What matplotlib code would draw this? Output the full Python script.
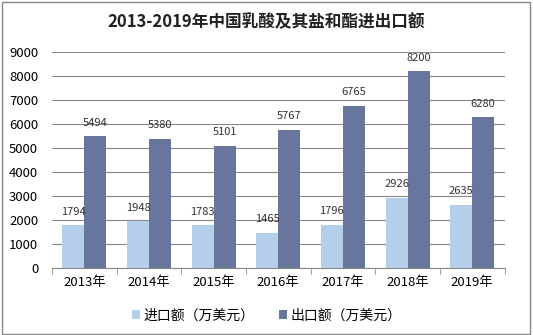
import matplotlib.pyplot as plt
import numpy as np
from matplotlib.patches import Rectangle

plt.rcParams['font.family'] = ['Noto Sans CJK SC', 'DejaVu Sans']

years = ["2013年", "2014年", "2015年", "2016年", "2017年", "2018年", "2019年"]
imports = [1794, 1948, 1783, 1465, 1796, 2926, 2635]
exports = [5494, 5380, 5101, 5767, 6765, 8200, 6280]
labels = ["进口额（万美元）", "出口额（万美元）"]

fig = plt.figure(figsize=(5.33, 3.35), dpi=100)
ax = fig.add_axes([0.0976, 0.2, 0.849, 0.645])

x = np.arange(len(years))
w = 0.34
b1 = ax.bar(x - w / 2, imports, w, color="#B5CFEA", label=labels[0], zorder=2)
b2 = ax.bar(x + w / 2, exports, w, color="#68769E", label=labels[1], zorder=2)

for bars, vals in ((b1, imports), (b2, exports)):
    for rect, v in zip(bars, vals):
        ax.text(rect.get_x() + rect.get_width() / 2, v + 350, str(v),
                ha="center", va="bottom", fontsize=8, color="#333333")

ax.set_xlim(-0.5, len(years) - 0.5)
ax.set_ylim(0, 9000)
ax.set_yticks(np.arange(0, 9001, 1000))
ax.yaxis.grid(True, color="#888888", linewidth=0.8, zorder=0)
ax.tick_params(axis="y", length=0, labelsize=9.5, pad=10)
ax.set_xticks(x)
ax.set_xticklabels(years, fontsize=9.5)
ax.set_xticks(np.arange(-0.5, len(years), 1), minor=True)
ax.tick_params(axis="x", which="major", length=0, pad=6)
ax.tick_params(axis="x", which="minor", length=4, color="#888888")
for s in ("left", "right", "top"):
    ax.spines[s].set_visible(False)
ax.spines["bottom"].set_color("#888888")

fig.text(0.5, 0.935, "2013-2019年中国乳酸及其盐和酯进出口额", ha="center", va="center",
         fontsize=12, fontweight="bold", color="#222222")

fig.legend(loc="lower center", bbox_to_anchor=(0.5, 0.0), ncol=2, frameon=False,
           fontsize=10, handlelength=0.6, handleheight=0.6, columnspacing=1.8,
           handletextpad=0.2)

fig.add_artist(Rectangle((0.003, 0.004), 0.992, 0.99, transform=fig.transFigure,
                         fill=False, edgecolor="#888888", linewidth=1))

fig.savefig("out.png", dpi=100)
